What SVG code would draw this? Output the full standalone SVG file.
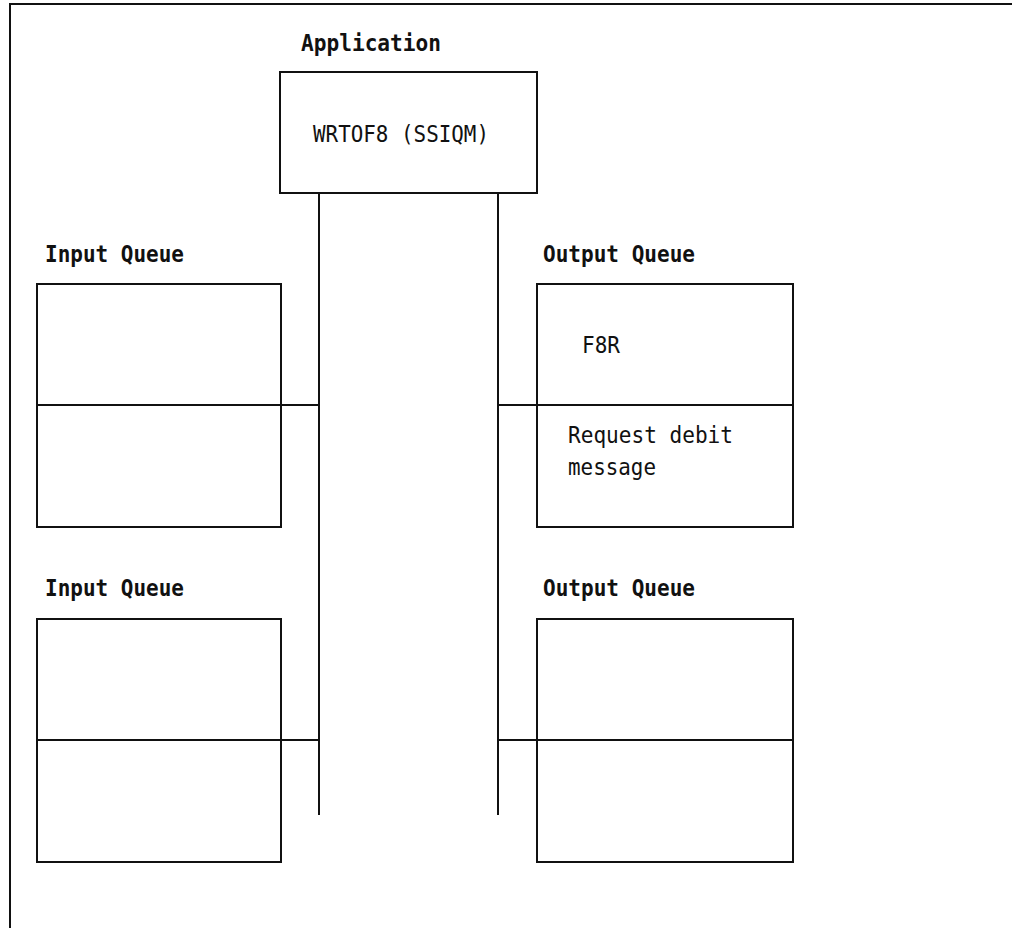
<svg xmlns="http://www.w3.org/2000/svg" width="1012" height="928" viewBox="0 0 1012 928">
<style>
.box{fill:none;stroke:#111;stroke-width:2}
.ln{fill:none;stroke:#111;stroke-width:2}
.t{font-family:"DejaVu Sans Mono","Liberation Mono",monospace;font-size:23px;fill:#111}
.b{font-weight:bold}
</style>
<rect width="1012" height="928" fill="#fff"/>
<path class="ln" d="M10,928 V4 H1012" stroke="#222"/>
<g id="app">
<text class="t b" x="301" y="51" textLength="140" lengthAdjust="spacingAndGlyphs">Application</text>
<rect class="box" x="280" y="72" width="257" height="121"/>
<text class="t" x="313" y="142" textLength="176" lengthAdjust="spacingAndGlyphs">WRTOF8 (SSIQM)</text>
</g>
<g id="inq1">
<text class="t b" x="45" y="262" textLength="139" lengthAdjust="spacingAndGlyphs">Input Queue</text>
<rect class="box" x="37" y="284" width="244" height="243"/>
<line class="ln" x1="37" y1="405" x2="281" y2="405"/>
</g>
<g id="inq2">
<text class="t b" x="45" y="596" textLength="139" lengthAdjust="spacingAndGlyphs">Input Queue</text>
<rect class="box" x="37" y="619" width="244" height="243"/>
<line class="ln" x1="37" y1="740" x2="281" y2="740"/>
</g>
<g id="outq1">
<text class="t b" x="543" y="262" textLength="152" lengthAdjust="spacingAndGlyphs">Output Queue</text>
<rect class="box" x="537" y="284" width="256" height="243"/>
<line class="ln" x1="537" y1="405" x2="793" y2="405"/>
<text class="t" x="582" y="353" textLength="38" lengthAdjust="spacingAndGlyphs">F8R</text>
<text class="t" x="568" y="443" textLength="165" lengthAdjust="spacingAndGlyphs">Request debit</text>
<text class="t" x="568" y="475" textLength="88" lengthAdjust="spacingAndGlyphs">message</text>
</g>
<g id="outq2">
<text class="t b" x="543" y="596" textLength="152" lengthAdjust="spacingAndGlyphs">Output Queue</text>
<rect class="box" x="537" y="619" width="256" height="243"/>
<line class="ln" x1="537" y1="740" x2="793" y2="740"/>
</g>
<g id="connectors">
<line class="ln" x1="319" y1="193" x2="319" y2="815"/>
<line class="ln" x1="498" y1="193" x2="498" y2="815"/>
<line class="ln" x1="281" y1="405" x2="319" y2="405"/>
<line class="ln" x1="281" y1="740" x2="319" y2="740"/>
<line class="ln" x1="498" y1="405" x2="537" y2="405"/>
<line class="ln" x1="498" y1="740" x2="537" y2="740"/>
</g>
</svg>
